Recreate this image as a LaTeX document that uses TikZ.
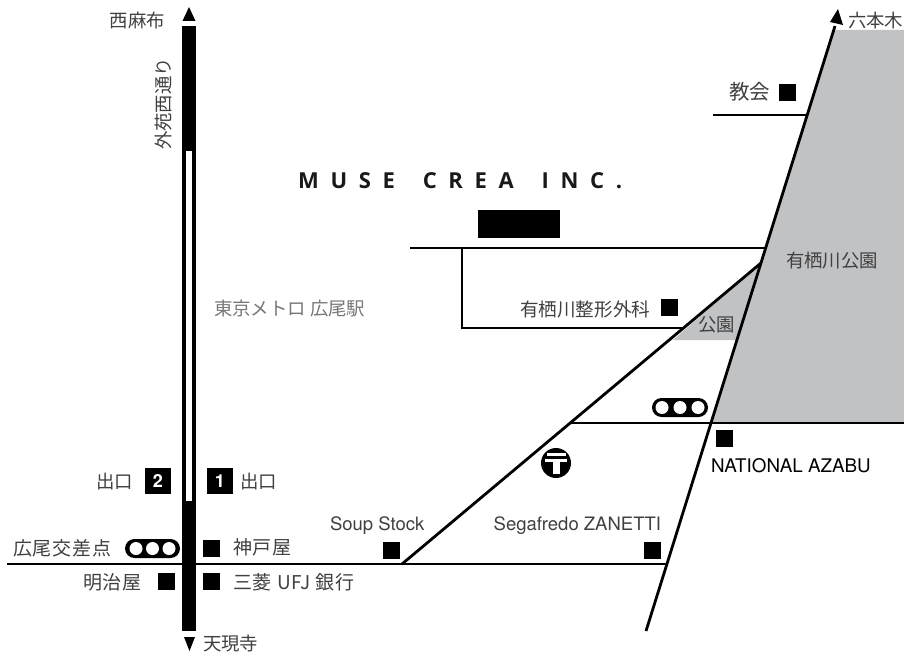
\documentclass[tikz,border=0pt]{standalone}
\usepackage{fontspec}
\setmainfont{Noto Sans CJK JP}
\newfontfamily\latin{TeX Gyre Heros}
\newfontfamily\logo{Open Sans}[LetterSpace=53,WordSpace=1.6]
\definecolor{park}{HTML}{C1C2C4}
\definecolor{ink}{HTML}{404040}
\definecolor{station}{HTML}{777777}
\tikzset{
  road/.style={draw=black,line width=2.8pt},
  shop/.style={fill=black,draw=none,minimum size=17pt,inner sep=0pt,outer sep=0pt},
  lab/.style={inner sep=0pt,outer sep=0pt,text=ink,font=\fontsize{18.4}{18.4}\selectfont},
  latinlab/.style={inner sep=0pt,outer sep=0pt,text=ink,font=\latin\fontsize{18.5}{18.5}\selectfont},
  pill/.style={fill=black,rounded corners=9.5pt,minimum height=19pt,inner sep=0pt,outer sep=0pt},
  lamp/.style={circle,fill=white,minimum size=13pt,inner sep=0pt,outer sep=0pt},
  exitbox/.style={fill=black,minimum size=26pt,inner sep=0pt,outer sep=0pt,text=white,font=\latin\bfseries\fontsize{18}{18}\selectfont}
}
\begin{document}
\begin{tikzpicture}[x=1pt,y=-1pt]
\useasboundingbox (0,0) rectangle (904,655);
% parks
\fill[park] (834,30) -- (904,30) -- (904,423) -- (711,423) -- cycle;
\fill[park] (761,263) -- (737,340) -- (673,340) -- cycle;
% named road ends
\coordinate (topdiag) at (835,26);
\coordinate (botdiag) at (646,631);
\coordinate (parkapex) at (761,263);
\coordinate (fork) at (402,564);
\coordinate (mainW) at (7,564);
\coordinate (mainE) at (667,564);
\coordinate (midW) at (569,423);
\coordinate (midE) at (904,423);
\coordinate (upW) at (410,248);
\coordinate (upE) at (766,248);
\coordinate (sideT) at (462,248);
\coordinate (sideB) at (462,328);
\coordinate (sideE) at (683,328);
\coordinate (chW) at (713,115);
\coordinate (chE) at (806,115);
% roads
\draw[road] (mainW) -- (mainE);
\draw[road] (midW) -- (midE);
\draw[road] (upW) -- (upE);
\draw[road] (sideT) -- (sideB) -- (sideE);
\draw[road] (chW) -- (chE);
\draw[road] (fork) -- (parkapex);
\draw[road] (topdiag) -- (botdiag);
\fill[black] (838,9) -- (830,22) -- (843,25) -- cycle;
% avenue
\fill[black] (182.3,26) rectangle (195.5,631);
\fill[white] (186,151) rectangle (192,501);
\fill[black] (189,7) -- (195.5,21) -- (182.5,21) -- cycle;
\fill[black] (184,637) -- (195,637) -- (189.5,651) -- cycle;
% shops
\node[shop,anchor=north west] (sChurch) at (779,84) {};
\node[shop,anchor=north west] (sClinic) at (661,299) {};
\node[shop,anchor=north west] (sNational) at (716,430) {};
\node[shop,anchor=north west] (sSoup) at (383,542) {};
\node[shop,anchor=north west] (sSega) at (644,542) {};
\node[shop,anchor=north west] (sKobe) at (203,540) {};
\node[shop,anchor=north west] (sUfj) at (203,573) {};
\node[shop,anchor=north west] (sMeiji) at (158,573) {};
\node[fill=black,minimum width=82pt,minimum height=28pt,inner sep=0pt,anchor=north west] (muse) at (478,210) {};
% exits
\node[exitbox,anchor=north west] (ex2) at (145,468) {2};
\node[exitbox,anchor=north west] (ex1) at (207,468) {1};
% signals
\node[pill,minimum width=55pt] (sigA) at (152.5,548.5) {};
\node[lamp] (sigA1) at (136,548.5) {};
\node[lamp] (sigA2) at (152.5,548.5) {};
\node[lamp] (sigA3) at (169,548.5) {};
\node[pill,minimum width=56pt] (sigB) at (680,407.5) {};
\node[lamp] (sigB1) at (662,407.5) {};
\node[lamp] (sigB2) at (680,407.5) {};
\node[lamp] (sigB3) at (698,407.5) {};
% post office
\node[circle,fill=black,minimum size=30pt,inner sep=0pt] (post) at (556,463) {};
\fill[white] (546.7,453.3) rectangle (566,456);
\fill[white] (545,459.3) rectangle (567.3,462.3);
\fill[white] (552.7,462) rectangle (560,474.3);
% labels
\node[inner sep=0pt,anchor=west,font=\logo\bfseries\fontsize{22}{22}\selectfont,text=black!90] (title) at (298,181) {MUSE CREA INC.};
\node[lab,anchor=east] (l1) at (165,21) {西麻布};
\node[lab,anchor=west] (l2) at (203,644) {天現寺};
\node[lab,anchor=center,rotate=90] (l3) at (164,104) {外苑西通り};
\node[lab,anchor=west] (l4) at (848,21) {六本木};
\node[lab,anchor=west,font=\fontsize{20.5}{20.5}\selectfont] (l5) at (729,92) {教会};
\node[lab,anchor=west] (l6) at (786,261) {有栖川公園};
\node[lab,anchor=west] (l7) at (698,325) {公園};
\node[lab,anchor=west,font=\fontsize{18.6}{18.6}\selectfont] (l8) at (520,309) {有栖川整形外科};
\node[lab,anchor=west,text=station] (l9) at (214,309) {東京メトロ 広尾駅};
\node[lab,anchor=east] (l10) at (133,482) {出口};
\node[lab,anchor=west] (l11) at (240,482) {出口};
\node[lab,anchor=west,font=\fontsize{19}{19}\selectfont] (l12) at (13,548) {\addfontfeature{LetterSpace=5}広尾交差点};
\node[lab,anchor=west,font=\fontsize{19}{19}\selectfont] (l13) at (233,547) {\addfontfeature{LetterSpace=5}神戸屋};
\node[lab,anchor=west,font=\fontsize{19}{19}\selectfont] (l14) at (83,582) {\addfontfeature{LetterSpace=5}明治屋};
\node[lab,anchor=west,font=\fontsize{19}{19}\selectfont] (l15) at (233,582) {\addfontfeature{LetterSpace=5}三菱 UFJ 銀行};
\node[latinlab,anchor=west] (l16) at (330,526) {Soup Stock};
\node[latinlab,anchor=east] (l17) at (661,526) {Segafredo ZANETTI};
\node[latinlab,anchor=west,font=\latin\fontsize{18.8}{18.8}\selectfont,text=black] (l18) at (711,466) {NATIONAL AZABU};
\end{tikzpicture}
\end{document}
